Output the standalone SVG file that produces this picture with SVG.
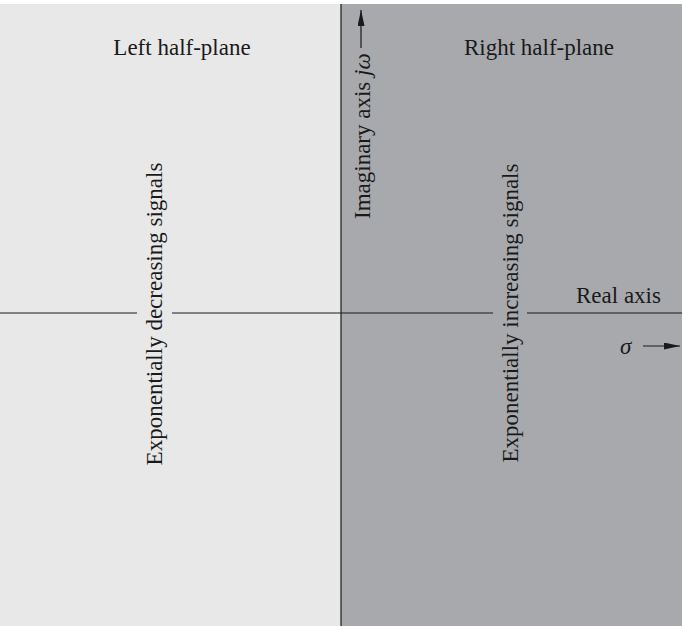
<svg xmlns="http://www.w3.org/2000/svg" width="682" height="626" viewBox="0 0 682 626">
<style>
text{font-family:"Liberation Serif","Times New Roman",serif;font-size:23px;fill:#1a1a1a}
.ln{stroke:#1a1a1a;stroke-width:1.2;fill:none}
</style>
<defs>
<marker id="ah" markerWidth="16" markerHeight="7" refX="16" refY="3.5" orient="auto" markerUnits="userSpaceOnUse">
<path d="M0,0 L16,3.5 L0,7 Z" fill="#1a1a1a"/>
</marker>
</defs>
<rect x="0" y="0" width="682" height="626" fill="#ffffff"/>
<g id="left-half-plane">
<rect x="0" y="4" width="341" height="622" fill="#e8e8e8"/>
<text x="182" y="55" text-anchor="middle">Left half-plane</text>
<text transform="translate(162,314) rotate(-90)" text-anchor="middle">Exponentially decreasing signals</text>
</g>
<g id="right-half-plane">
<rect x="341" y="4" width="341" height="622" fill="#a8a9ad"/>
<text x="539" y="55" text-anchor="middle">Right half-plane</text>
<text transform="translate(518,313) rotate(-90)" text-anchor="middle">Exponentially increasing signals</text>
</g>
<g id="connectors">
<line class="ln" x1="341" y1="4" x2="341" y2="626"/>
<line class="ln" x1="0" y1="313" x2="137" y2="313"/>
<line class="ln" x1="172" y1="313" x2="493" y2="313"/>
<line class="ln" x1="527" y1="313" x2="682" y2="313"/>
<line class="ln" x1="361" y1="48" x2="361" y2="10" marker-end="url(#ah)"/>
<line class="ln" x1="643" y1="346" x2="680" y2="346" marker-end="url(#ah)"/>
</g>
<g id="imaginary-axis">
<text transform="translate(370,219) rotate(-90)" font-size="22">Imaginary axis <tspan font-style="italic">jω</tspan></text>
</g>
<g id="real-axis">
<text x="576" y="303">Real axis</text>
<text x="620" y="354" font-style="italic">σ</text>
</g>
</svg>
